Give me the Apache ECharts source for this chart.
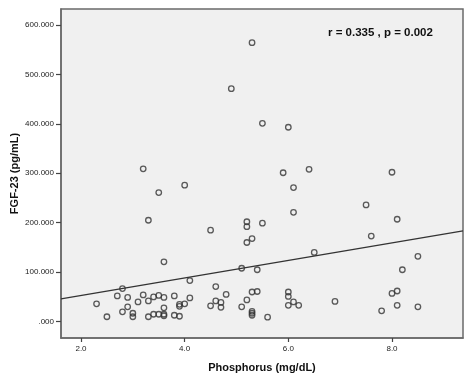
<!DOCTYPE html>
<html>
<head>
<meta charset="utf-8">
<script src="https://cdn.jsdelivr.net/npm/echarts@6/dist/echarts.min.js"></script>
<style>html,body{margin:0;padding:0;background:#fff}#c{width:474px;height:382px}</style>
</head>
<body>
<div id="c"></div>
<script>
// Phosphorus (mg/dL)
var phosphorus = [2.30,2.50,2.70,2.80,2.80,2.90,2.90,3.00,3.00,3.10,3.20,3.30,3.30,3.40,3.40,3.50,3.50,3.60,3.60,3.60,3.60,3.80,3.80,3.90,3.90,3.90,4.00,4.10,4.10,3.60,4.50,4.60,4.60,4.70,4.70,4.80,5.10,5.10,5.20,5.30,5.40,5.30,5.30,5.30,5.40,5.60,6.00,6.00,6.00,6.10,6.20,6.50,6.90,7.80,8.00,8.10,8.10,8.50,8.20,8.50,3.20,3.50,3.30,4.00,4.50,5.20,5.20,5.50,5.30,5.20,5.90,6.10,6.10,6.40,5.50,6.00,5.30,4.90,8.00,7.50,8.10,7.60];
// FGF-23 (pg/mL)
var fgf23 = [36,10,52,67,20,49,30,17,10,40,54,42,10,50,15,53,15,49,28,15,12,52,13,35,31,11,36,83,48,121,32,71,42,39,29,55,108,30,44,60,61,21,17,13,105,9,60,51,33,40,33,140,41,22,57,62,33,30,105,132,309,261,205,276,185,202,192,199,168,160,301,271,221,308,401,393,564,471,302,236,207,173];
// regression line: [intercept, slope]
var fitLine = [17.4, 17.74];
var xTicks = [2, 4, 6, 8];
var yTicks = [0, 100, 200, 300, 400, 500, 600];
var xRange = [1.614, 9.37];
var yRange = [-33, 632];
var annotation = 'r = 0.335 , p = 0.002';

var points = phosphorus.map(function (x, i) { return [x, fgf23[i]]; });
var linePts = xRange.map(function (x) { return [x, fitLine[0] + fitLine[1] * x]; });

var FONT = 'Liberation Sans, Arial, sans-serif';
var chart = echarts.init(document.getElementById('c'), null, {renderer: 'canvas'});
chart.setOption({
  animation: false,
  backgroundColor: '#ffffff',
  grid: {left: 61, top: 9, right: 11, bottom: 44, containLabel: false, outerBoundsMode: 'none', show: true, backgroundColor: '#f0f0f0', borderColor: '#6a6a6a', borderWidth: 1.5},
  xAxis: {
    type: 'value', min: xRange[0], max: xRange[1],
    name: 'Phosphorus (mg/dL)', nameLocation: 'middle', nameGap: 24, nameMoveOverlap: false,
    nameTextStyle: {fontFamily: FONT, fontWeight: 'bold', fontSize: 11, color: '#111'},
    axisLine: {show: true, onZero: false, lineStyle: {color: '#6a6a6a', width: 1.5}},
    axisTick: {show: true, length: 4, customValues: xTicks, lineStyle: {color: '#444', width: 1.2}},
    axisLabel: {customValues: xTicks, formatter: function (v) { return v.toFixed(1); }, fontFamily: FONT, fontSize: 8, color: '#222', margin: 7},
    splitLine: {show: false}
  },
  yAxis: {
    type: 'value', min: yRange[0], max: yRange[1],
    name: 'FGF-23 (pg/mL)', nameLocation: 'middle', nameGap: 41, nameMoveOverlap: false,
    nameTextStyle: {fontFamily: FONT, fontWeight: 'bold', fontSize: 11, color: '#111'},
    axisLine: {show: true, onZero: false, lineStyle: {color: '#6a6a6a', width: 1.5}},
    axisTick: {show: true, length: 5, customValues: yTicks, lineStyle: {color: '#444', width: 1.2}},
    axisLabel: {customValues: yTicks, formatter: function (v) { return v === 0 ? '.000' : v.toFixed(3); }, fontFamily: FONT, fontSize: 8, color: '#222', margin: 7},
    splitLine: {show: false}
  },
  graphic: [{
    type: 'text', left: 328, top: 27,
    style: {text: annotation, font: 'bold 11.5px "Liberation Sans", Arial, sans-serif', fill: '#111'}
  }],
  series: [
    {type: 'line', data: linePts, symbol: 'none', lineStyle: {color: '#333', width: 1.2}, silent: true, z: 1},
    {type: 'scatter', data: points, symbol: 'circle', symbolSize: 5.5,
     itemStyle: {color: 'rgba(0,0,0,0)', borderColor: '#333', borderWidth: 1.3}, z: 2}
  ]
});
</script>
</body>
</html>
